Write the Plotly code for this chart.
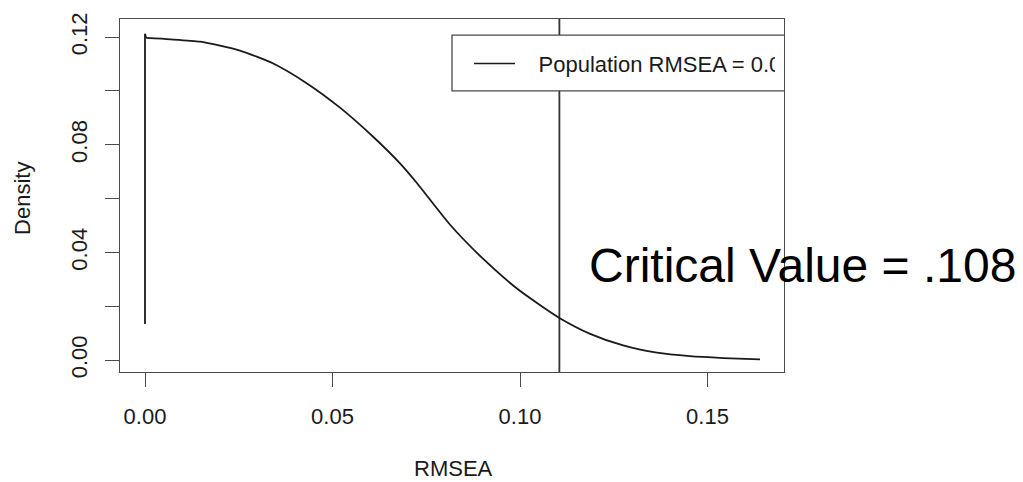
import plotly.graph_objects as go

# ---- data ----
rmsea_x = [0.0, 0.0, 0.0003, 0.0067, 0.0147, 0.0253, 0.0342, 0.0431, 0.0520, 0.0609,
           0.0680, 0.0725, 0.0813, 0.0902, 0.0991, 0.1053, 0.1105, 0.1187, 0.1275,
           0.1365, 0.1453, 0.1542, 0.1640]
density_y = [0.0134, 0.1213, 0.1197, 0.1192, 0.1183, 0.1150, 0.1102, 0.1029, 0.0938, 0.0829,
             0.0731, 0.0658, 0.0504, 0.0376, 0.0267, 0.0205, 0.0157, 0.0098, 0.0055,
             0.0028, 0.0015, 0.0008, 0.0003]
critical_x = 0.1105
x_tickvals = [0.0, 0.05, 0.10, 0.15]
x_ticktext = ["0.00", "0.05", "0.10", "0.15"]
y_tickvals = [0.0, 0.02, 0.04, 0.06, 0.08, 0.10, 0.12]
y_ticktext = ["0.00", "", "0.04", "", "0.08", "", "0.12"]
legend_label = "Population RMSEA = 0.0"
critical_label = "Critical Value = .108"
x_title = "RMSEA"
y_title = "Density"

# ---- geometry (reference pixel coords; page body has an 8px margin) ----
OFF = 8
W, H = 1023 - OFF, 482 - OFF
BOX_L, BOX_R, BOX_T, BOX_B = 120, 784, 13, 372
L, T = BOX_L - OFF, BOX_T - OFF
R, B = W - (BOX_R - OFF), H - (BOX_B - OFF)
PW, PH = BOX_R - BOX_L, BOX_B - BOX_T
X0, XS = 145.0, 3750.0     # ref pixel of x=0, px per unit
Y0, YS = 360.0, 2738.0     # ref pixel of y=0, px per unit


def dx(px):
    return (px - X0) / XS


def dy(py):
    return (Y0 - py) / YS


def paper_x(px):
    return (px - BOX_L) / PW


def paper_y(py):
    return (BOX_B - py) / PH


FONT = "Liberation Sans, Arial, sans-serif"
INK = "#1a1a1a"
BOX = "#4a4a4a"

fig = go.Figure()

# vertical start of the density estimate (drawn straight)
fig.add_trace(go.Scatter(
    x=rmsea_x[:3], y=density_y[:3], mode="lines",
    line=dict(color=INK, width=1.8), showlegend=False, hoverinfo="skip"))
# smooth density curve
fig.add_trace(go.Scatter(
    x=rmsea_x[2:], y=density_y[2:], mode="lines",
    line=dict(color=INK, width=1.8, shape="spline", smoothing=0.6),
    showlegend=False, hoverinfo="skip"))

# legend text (clipped by the plotting region like the reference)
fig.add_trace(go.Scatter(
    x=[dx(538.5)], y=[dy(61)], mode="text", text=[legend_label],
    textposition="middle right", textfont=dict(family=FONT, size=22, color=INK),
    cliponaxis=True, showlegend=False, hoverinfo="skip"))

shapes = [
    # critical value vertical line
    dict(type="line", xref="x", yref="y", x0=critical_x, x1=critical_x,
         y0=dy(380), y1=dy(5), layer="below",
         line=dict(color="#333333", width=1.8)),
    # legend box
    dict(type="rect", xref="x", yref="y", x0=dx(452), x1=dx(900),
         y0=dy(86), y1=dy(29.3), layer="below", fillcolor="white",
         line=dict(color=BOX, width=1.3)),
    # legend sample line
    dict(type="line", xref="x", yref="y", x0=dx(474), x1=dx(515),
         y0=dy(58.3), y1=dy(58.3), layer="below",
         line=dict(color=INK, width=1.5)),
]

annotations = [
    # white mask reproducing the clipped end of the legend label
    dict(text=" ", xref="paper", yref="paper", x=paper_x(775), y=paper_y(61),
         xanchor="left", yanchor="middle", width=8, height=30,
         bgcolor="white", borderpad=0, borderwidth=0, showarrow=False,
         font=dict(family=FONT, size=10, color="white")),
    dict(text=critical_label, xref="paper", yref="paper",
         x=paper_x(587), y=paper_y(264), xanchor="left", yanchor="middle",
         showarrow=False, font=dict(family=FONT, size=48, color="black")),
    dict(text=x_title, xref="paper", yref="paper",
         x=paper_x(453), y=paper_y(470), xanchor="center", yanchor="middle",
         showarrow=False, font=dict(family=FONT, size=22, color=INK)),
    dict(text=y_title, xref="paper", yref="paper", textangle=-90,
         x=paper_x(23), y=paper_y(195), xanchor="center", yanchor="middle",
         showarrow=False, font=dict(family=FONT, size=22, color=INK)),
]

axis_common = dict(
    showgrid=False, zeroline=False, showline=True, mirror=True,
    linecolor=BOX, linewidth=1.3, ticks="outside", ticklen=14,
    tickcolor=BOX, tickwidth=1.3, ticklabeloverflow="allow",
    tickfont=dict(family=FONT, size=22, color=INK),
)

fig.update_layout(
    width=W, height=H,
    margin=dict(l=L, r=R, t=T, b=B, pad=0),
    paper_bgcolor="white", plot_bgcolor="white",
    showlegend=False,
    shapes=shapes, annotations=annotations,
    xaxis=dict(range=[dx(BOX_L), dx(BOX_R)], tickvals=x_tickvals, ticktext=x_ticktext,
               ticklabelstandoff=10, **axis_common),
    yaxis=dict(range=[dy(BOX_B), dy(BOX_T)], tickvals=y_tickvals, ticktext=y_ticktext,
               tickangle=-90, ticklabelstandoff=9, **axis_common),
)

fig.write_html("out.html")
